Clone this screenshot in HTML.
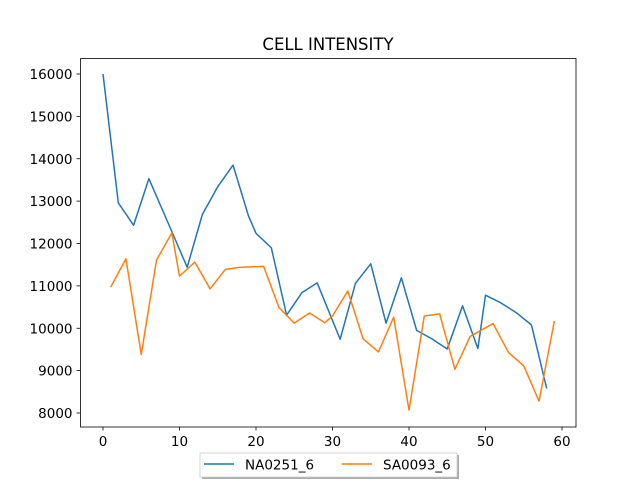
<!DOCTYPE html>
<html><head><meta charset="utf-8"><style>
body{margin:0;background:#fff;}
svg text{font-family:"DejaVu Sans","Liberation Sans",sans-serif;}
</style></head><body>
<svg id="chart" width="640" height="480" viewBox="0 0 640 480" xmlns="http://www.w3.org/2000/svg">
<rect width="640" height="480" fill="#fff"/>
<text x="328" y="50" font-size="16.5" text-anchor="middle" fill="#000">CELL INTENSITY</text>
<g id="axes"></g>
<g id="series"></g>
<rect x="80.5" y="58.5" width="495.5" height="368.5" fill="none" stroke="#000" stroke-width="0.8"/>
<g>
<rect x="202" y="455" width="257" height="24" fill="#555" opacity="0.5"/>
<rect x="200" y="453" width="257" height="24" fill="#fff" stroke="#ccc" stroke-width="0.8"/>
<line x1="204" y1="464" x2="234" y2="464" stroke="#1f77b4" stroke-width="1.5"/>
<text x="245" y="469.5" font-size="13.5" fill="#000">NA0251_6</text>
<line x1="342" y1="464" x2="372" y2="464" stroke="#ff7f0e" stroke-width="1.5"/>
<text x="383" y="469.5" font-size="13.5" fill="#000">SA0093_6</text>
</g>
</svg>
<script>
const xTicks=[0,10,20,30,40,50,60];
const yTicks=[8000,9000,10000,11000,12000,13000,14000,15000,16000];
const naX=[0,2,4,6,9,11,13,15,17,19,20,22,24,26,28,31,33,35,37,39,41,43,45,47,49,50,52,54,56,58];
const naY=[16000,12960,12430,13530,12280,11440,12690,13340,13850,12660,12240,11900,10310,10840,11070,9740,11060,11520,10120,11190,9950,9750,9510,10530,9520,10780,10600,10370,10080,8580];
const saX=[1,3,5,7,9,10,12,14,16,18,21,23,25,27,29,30,32,34,36,38,40,42,44,46,48,51,53,55,57,59];
const saY=[10970,11640,9380,11610,12250,11230,11560,10930,11390,11440,11460,10490,10120,10360,10130,10290,10880,9750,9440,10260,8070,10290,10340,9030,9810,10110,9430,9110,8280,10170];
const ns="http://www.w3.org/2000/svg";
function sx(v){return 103+v*7.65;}
function sy(v){return 413-(v-8000)*0.042375;}
const axes=document.getElementById('axes');
function mk(tag,attrs,parent){const e=document.createElementNS(ns,tag);for(const k in attrs)e.setAttribute(k,attrs[k]);parent.appendChild(e);return e;}
xTicks.forEach(t=>{
 const g=mk('g',{},axes);
 
 
 mk('line',{x1:sx(t),x2:sx(t),y1:427,y2:430.5,stroke:'#000','stroke-width':0.8},g);
 const tx=mk('text',{x:sx(t),y:446,'font-size':13.5,'text-anchor':'middle',fill:'#000'},g);tx.textContent=t;
});
yTicks.forEach(t=>{
 const g=mk('g',{},axes);
 
 
 mk('line',{x1:76.5,x2:80,y1:sy(t),y2:sy(t),stroke:'#000','stroke-width':0.8},g);
 const tx=mk('text',{x:72.5,y:sy(t)+5,'font-size':13.5,'text-anchor':'end',fill:'#000'},g);tx.textContent=t;
});
const series=document.getElementById('series');
function line(xs,ys,color,name){
 const p=mk('polyline',{points:xs.map((x,i)=>sx(x)+','+sy(ys[i])).join(' '),fill:'none',stroke:color,'stroke-width':1.5,'stroke-linejoin':'round'},series);
 
 
}
line(naX,naY,'#1f77b4','series-na0251');
line(saX,saY,'#ff7f0e','series-sa0093');
</script>
</body></html>
